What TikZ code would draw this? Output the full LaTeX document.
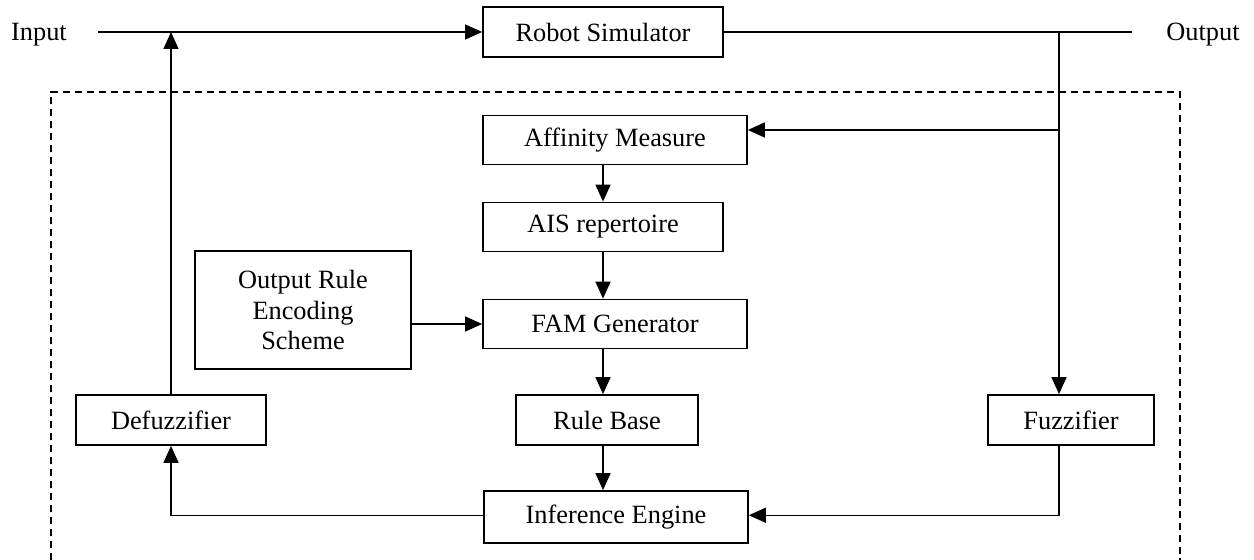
\documentclass[tikz,border=0pt]{standalone}
\usepackage{fontspec}
\setmainfont{Liberation Serif}
\usetikzlibrary{arrows.meta}

\begin{document}
\begin{tikzpicture}[x=0.02cm,y=-0.02cm,
    box/.style={draw, line width=1pt, align=center, inner sep=0pt, font=\fontsize{15}{17.6}\selectfont},
    lbl/.style={font=\fontsize{15}{17.6}\selectfont},
    conn/.style={line width=0.8pt},
    arr/.style={conn, -{Triangle[length=0.34cm,width=0.3cm]}}]
    \useasboundingbox (0,0) rectangle (1254,560);
    % boxes
    \node[box, minimum width=4.8cm, minimum height=1cm] (rsim) at (603,32) {Robot Simulator};
    \node[box, minimum width=5.28cm, minimum height=0.98cm] (aff) at (615,140) {Affinity Measure};
    \node[box, minimum width=4.8cm, minimum height=0.98cm] (ais) at (603,227) {AIS repertoire};
    \node[box, minimum width=5.28cm, minimum height=0.98cm] (fam) at (615,324) {FAM Generator};
    \node[box, minimum width=4.32cm, minimum height=2.36cm] (orule) at (303,310) {Output Rule\\Encoding\\Scheme};
    \node[box, minimum width=3.8cm, minimum height=1cm] (defuz) at (171,420) {Defuzzifier};
    \node[box, minimum width=3.64cm, minimum height=1cm] (rbase) at (607,420) {Rule Base};
    \node[box, minimum width=3.32cm, minimum height=1cm] (fuzz) at (1071,420) {Fuzzifier};
    \node[box, minimum width=5.28cm, minimum height=1.04cm] (infer) at (616,517) {Inference Engine};
    \node[lbl] (inlbl) at (39,35) {Input};
    \node[lbl] (outlbl) at (1203,35) {Output};
    \coordinate (in) at (98,32);
    \coordinate (out) at (1132,32);
    \coordinate (tap) at (1059,32);
    \coordinate (tapaff) at (1059,130);
    % dashed frame (bottom edge cut off)
    \draw[line width=0.8pt, dash pattern=on 0.15cm off 0.09cm] (51,560) |- (1180,92) -- (1180,560);
    % connectors
    \draw[arr] (in) -- (rsim.west);
    \draw[conn] (rsim.east) -- (out);
    \draw[arr] (tap) -- (tap |- fuzz.north);
    \draw[arr] (tapaff) -- (aff.east |- tapaff);
    \draw[arr] (ais.north |- aff.south) -- (ais.north);
    \draw[arr] (ais.south) -- (ais.south |- fam.north);
    \draw[arr] (orule.east |- fam.west) -- (fam.west);
    \draw[arr] (ais.south |- fam.south) -- (ais.south |- rbase.north);
    \draw[arr] (ais.south |- rbase.south) -- (ais.south |- infer.north);
    \draw[arr] ([yshift=1]infer.west) -| (defuz.south);
    \draw[arr] (tap |- fuzz.south) |- ([yshift=1]infer.east);
    \draw[arr] (defuz.north) -- (defuz.north |- in);
\end{tikzpicture}
\end{document}
